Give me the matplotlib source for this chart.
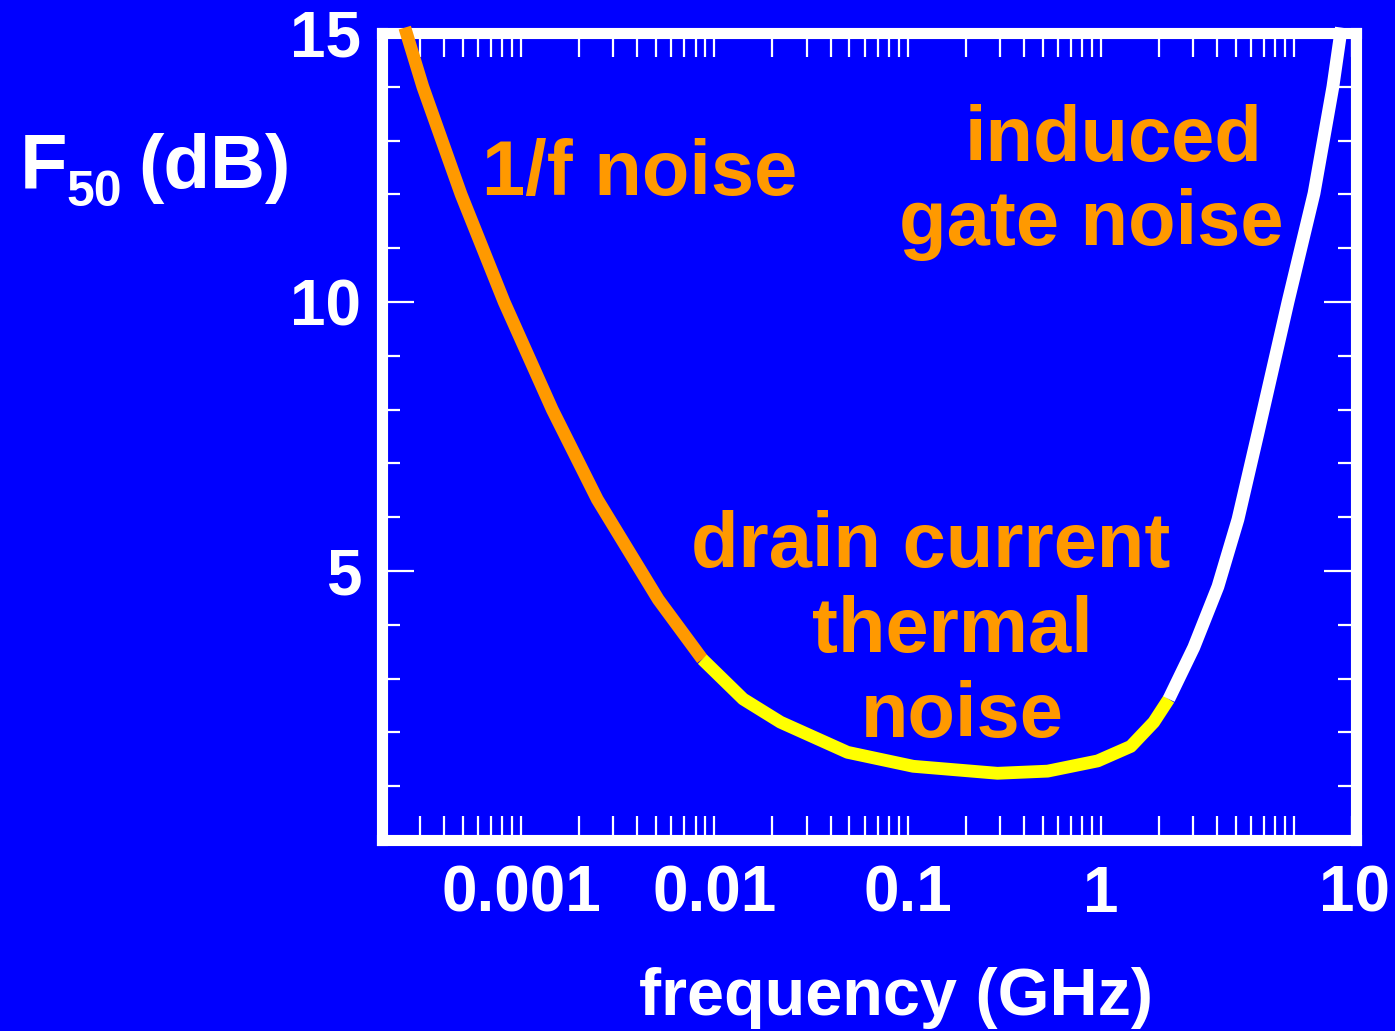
import numpy as np
import matplotlib
matplotlib.use('Agg')
import matplotlib.pyplot as plt
from matplotlib.ticker import FixedLocator, NullFormatter
import matplotlib.transforms as mtransforms

plt.rcParams['font.family'] = ['Liberation Sans', 'DejaVu Sans']
plt.rcParams['font.weight'] = 'bold'

# ---- data ----
freq_1f = [2.5e-4, 3.1e-4, 4.89e-4, 8.17e-4, 1.45e-3, 2.48e-3, 5.13e-3, 8.67e-3]
nf_1f = [15.1, 14.0, 12.0, 10.0, 8.0, 6.33, 4.47, 3.36]
freq_th = [8.67e-3, 1.41e-2, 2.2e-2, 4.89e-2, 0.107, 0.292, 0.531, 0.964, 1.43, 1.88, 2.25]
nf_th = [3.36, 2.62, 2.19, 1.63, 1.37, 1.24, 1.28, 1.47, 1.74, 2.19, 2.62]
freq_gate = [2.25, 3.03, 4.04, 5.13, 6.5, 9.31, 12.7, 15.9, 17.6]
nf_gate = [2.62, 3.58, 4.71, 5.96, 7.55, 10.0, 12.02, 14.0, 15.1]

x_major = [1e-3, 1e-2, 1e-1, 1, 10]
x_labels = ['0.001', '0.01', '0.1', '1', '10']
y_major = [5, 10, 15]
y_labels = ['5', '10', '15']

BLUE = '#0000FF'
ORANGE = '#FF9900'
YELLOW = '#FFFF00'
WHITE = '#FFFFFF'

fig = plt.figure(figsize=(13.95, 10.31), dpi=100, facecolor=BLUE)
ax = fig.add_axes([382 / 1395, 1 - 840 / 1031, (1356 - 382) / 1395, (840 - 33) / 1031])
ax.set_facecolor(BLUE)
ax.set_xscale('log')
ax.set_xlim(10 ** -3.72, 10 ** 1.321)
ax.set_ylim(0, 15)

for s in ax.spines.values():
    s.set_color(WHITE)
    s.set_linewidth(8)
    s.set_zorder(2)

lw = 9.2
ax.plot(freq_1f, nf_1f, color=ORANGE, lw=lw, solid_capstyle='butt', solid_joinstyle='round', clip_on=False, zorder=3)
ax.plot(freq_th, nf_th, color=YELLOW, lw=lw, solid_capstyle='butt', solid_joinstyle='round', clip_on=False, zorder=3)
ax.plot(freq_gate, nf_gate, color=WHITE, lw=lw, solid_capstyle='butt', solid_joinstyle='round', clip_on=False, zorder=3)

# x ticks
ax.xaxis.set_major_locator(FixedLocator(x_major))
ax.set_xticklabels(x_labels)
minors = [m * 10.0 ** e for e in range(-4, 2) for m in range(2, 10)]
ax.xaxis.set_minor_locator(FixedLocator(minors))
ax.xaxis.set_minor_formatter(NullFormatter())
ax.tick_params(axis='x', which='both', direction='in', top=True, bottom=True,
               length=17, width=1.6, color=WHITE)
ax.tick_params(axis='x', which='major', pad=18, labelsize=46, labelcolor=WHITE)

# y ticks
ax.yaxis.set_major_locator(FixedLocator(y_major))
ax.set_yticklabels(y_labels)
ax.yaxis.set_minor_locator(FixedLocator(list(range(1, 15))))
ax.yaxis.set_minor_formatter(NullFormatter())
ax.tick_params(axis='y', which='both', direction='in', left=True, right=True,
               width=1.6, color=WHITE)
ax.tick_params(axis='y', which='major', length=23, pad=15, labelsize=46, labelcolor=WHITE)
ax.tick_params(axis='y', which='minor', length=13)

for lab in ax.get_xticklabels() + ax.get_yticklabels():
    lab.set_fontweight('bold')

# the "10" label sits at the right edge in the reference
last = ax.xaxis.get_major_ticks()[-1].label1
last.set_transform(last.get_transform() + mtransforms.ScaledTranslation(0.61, 0, fig.dpi_scale_trans))

# axis titles
fig.text(20 / 1395, 1 - 188 / 1031, 'F', color=WHITE, fontsize=56, fontweight='bold', va='baseline', ha='left')
fig.text(66 / 1395, 1 - 206 / 1031, '50', color=WHITE, fontsize=36, fontweight='bold', va='baseline', ha='left')
fig.text(138 / 1395, 1 - 188 / 1031, '(dB)', color=WHITE, fontsize=55, fontweight='bold', va='baseline', ha='left')
fig.text(896 / 1395, 1 - 1015 / 1031, 'frequency (GHz)', color=WHITE, fontsize=48, fontweight='bold',
         va='baseline', ha='center')

# region annotations
def atext(px, py, s):
    ax.text((px - 382) / 974, (840 - py) / 807, s, transform=ax.transAxes, color=ORANGE,
            fontsize=56, fontweight='bold', ha='center', va='baseline', zorder=4)

atext(640, 195, '1/f noise')
atext(1113, 161, 'induced')
atext(1091, 245, 'gate noise')
atext(931, 567, 'drain current')
atext(952, 652, 'thermal')
atext(962, 737, 'noise')

fig.savefig('out.png', dpi=100, facecolor=BLUE)
